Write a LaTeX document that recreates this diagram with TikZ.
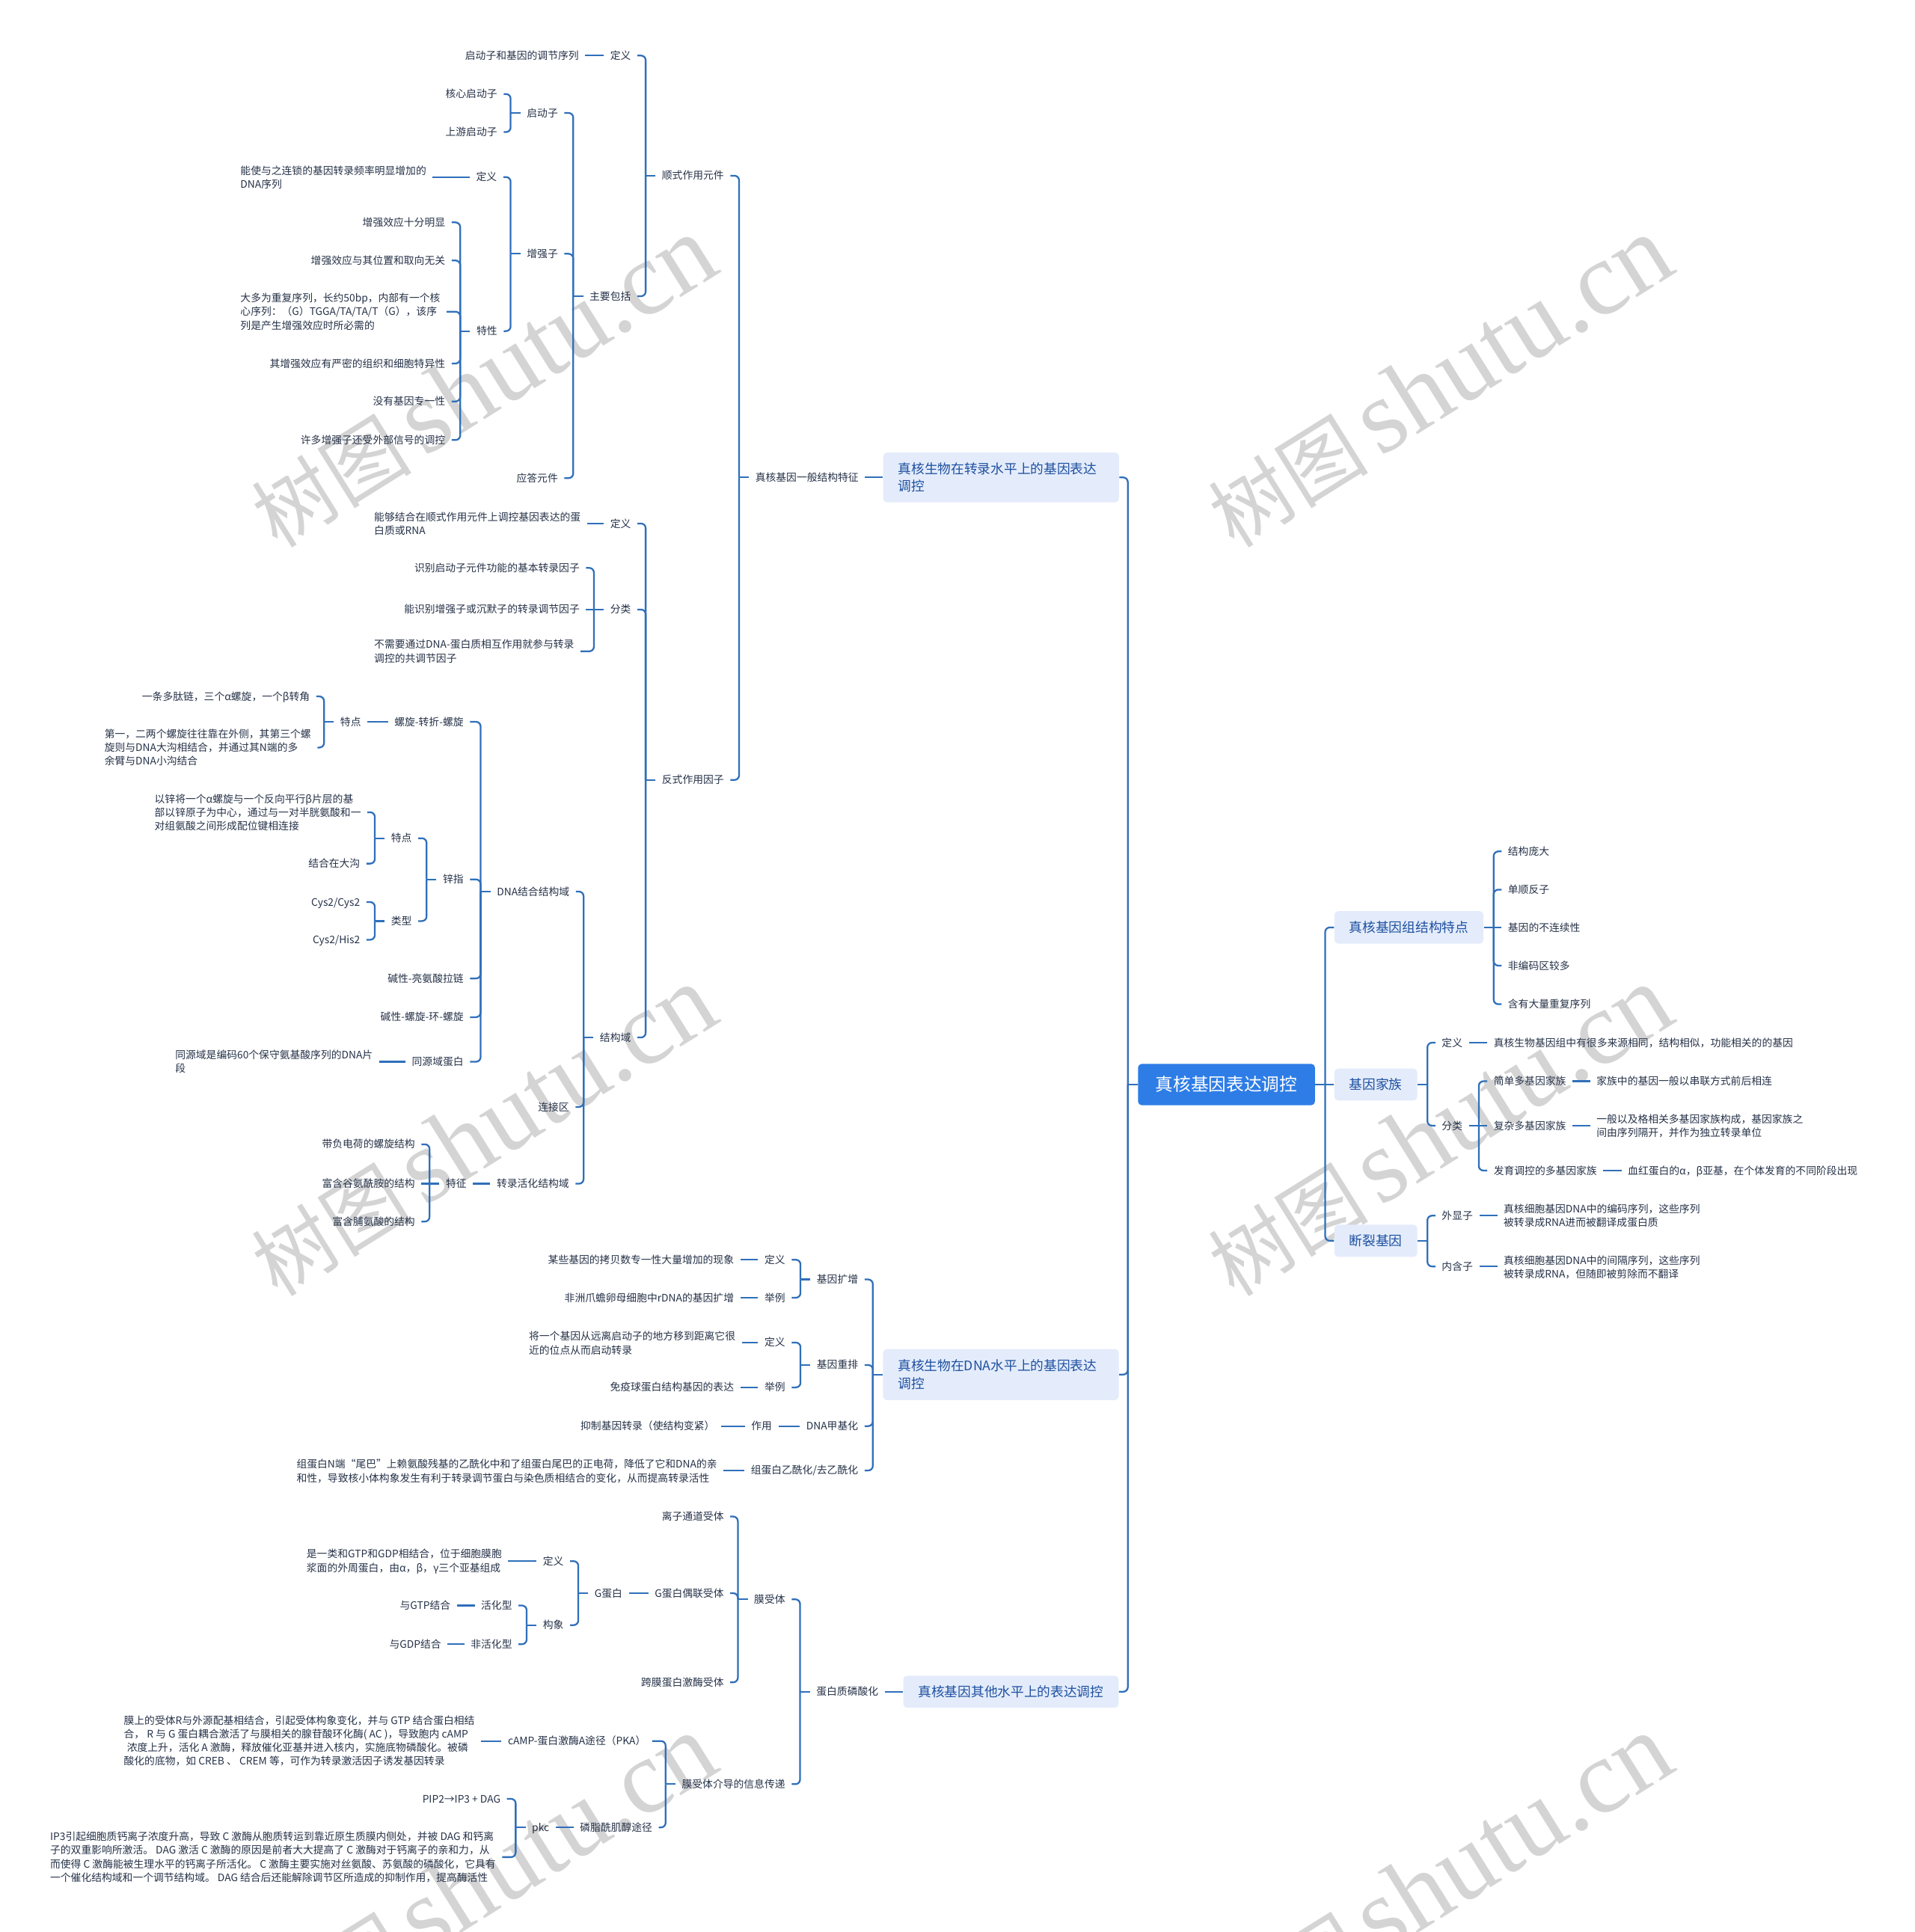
\documentclass[tikz,border=0pt]{standalone}
\usepackage{fontspec}
\setmainfont{Noto Sans CJK SC}
\newfontfamily\wmserif{Liberation Serif}
\usetikzlibrary{calc}
\definecolor{lnc}{RGB}{47,111,186}
\definecolor{txc}{RGB}{38,50,72}
\definecolor{ttc}{RGB}{30,80,160}
\definecolor{boxc}{RGB}{228,236,251}
\definecolor{ctrc}{RGB}{46,125,230}
\definecolor{wmc}{RGB}{212,212,212}
\newcommand\fsm{\fontsize{6.7pt}{8.8pt}\selectfont}
\newcommand\fmd{\fontsize{8.6pt}{11.4pt}\selectfont}
\newcommand\fbg{\fontsize{11.5pt}{14pt}\selectfont}
\newcommand\lbr[2]{\draw[conn] (#1.west) -- ++(-6.4pt,0pt) coordinate (bb);
  \foreach \ch in {#2}{\draw[conn,rounded corners=3pt] (bb) |- (\ch.east);}}
\newcommand\rbr[2]{\draw[conn] (#1.east) -- ++(6.4pt,0pt) coordinate (bb);
  \foreach \ch in {#2}{\draw[conn,rounded corners=3pt] (bb) |- (\ch.west);}}
\newcommand\lnk[2]{\draw[conn] (#1.west) -- (#1.west -| #2.east);}
\newcommand\rlnk[2]{\draw[conn] (#1.east) -- (#1.east -| #2.west);}
\begin{document}
\begin{tikzpicture}[x=0.8pt,y=-0.8pt,
  conn/.style={draw=lnc,line width=1.1pt},
  tn/.style={font=\fsm,text=txc,inner xsep=4pt,inner ysep=1pt},
  L/.style={tn,anchor=east,xshift=4pt,text height=5.7pt,text depth=0.8pt},
  R/.style={tn,anchor=west,xshift=-4pt,text height=5.7pt,text depth=0.8pt},
  ML/.style={tn,anchor=west,xshift=-4pt,align=left},
  bx/.style={fill=boxc,rounded corners=2.5pt,font=\fmd,text=ttc,inner xsep=9.7pt,inner ysep=0pt},
  bxs/.style={bx,text height=7.3pt,text depth=0.9pt},
  wm/.style={rotate=32,text=wmc,inner sep=0pt}]
\fill[white] (0,0) rectangle (1554,1568);
\useasboundingbox (0,0) rectangle (1554,1568);
% watermarks
\foreach \wx in {392,1168}{\foreach \wy in {310,918,1526}{
  \node[wm] at (\wx,\wy) {\fontsize{52pt}{52pt}\selectfont 树图\hspace{8pt}{\wmserif\fontsize{68pt}{68pt}\selectfont shutu.cn}};}}
% ---------- centre and main boxes
\node[fill=ctrc,rounded corners=2.5pt,font=\fbg,text=white,minimum width=114.9pt,minimum height=26.9pt,inner sep=0pt,text height=9.8pt,text depth=1.2pt] (C) at (995.3,880.2) {真核基因表达调控};
\node[bx,text width=133.7pt,align=left,minimum height=32.4pt] (LA) at (812.4,387.5) {真核生物在转录水平上的基因表达\\调控};
\node[bx,text width=133.7pt,align=left,minimum height=33.1pt] (LB) at (812.25,1115.6) {真核生物在DNA水平上的基因表达\\调控};
\node[bxs,anchor=east,minimum height=20.8pt] (LC) at (908,1373) {真核基因其他水平上的表达调控};
\node[bxs,anchor=west,minimum height=21.1pt] (RA) at (1082.6,752.7) {真核基因组结构特点};
\node[bxs,anchor=west,minimum height=20.8pt] (RB) at (1082.6,880.2) {基因家族};
\node[bxs,anchor=west,minimum height=21pt] (RC) at (1082.6,1007) {断裂基因};
% ---------- transcription level
\node[L] (gen) at (697,387.5) {真核基因一般结构特征};
\node[L] (cis) at (587.7,142.6) {顺式作用元件};
\node[L] (tdef) at (512.2,45.1) {定义};
\node[L] (tdefc) at (469.9,45.1) {启动子和基因的调节序列};
\node[L] (main) at (512.2,240.4) {主要包括};
\node[L] (prom) at (453,91.7) {启动子};
\node[L] (core) at (403.7,76.3) {核心启动子};
\node[L] (ups) at (403.7,107.2) {上游启动子};
\node[L] (enh) at (453,206) {增强子};
\node[L] (edef) at (403.5,143.7) {定义};
\node[ML] (edefc) at (194.9,143.75) {能使与之连锁的基因转录频率明显增加的\\DNA序列};
\node[L] (feat) at (403.7,268.7) {特性};
\node[L] (fa) at (361.5,180.5) {增强效应十分明显};
\node[L] (fb) at (361.5,211.4) {增强效应与其位置和取向无关};
\node[ML] (fc) at (194.9,252.95) {大多为重复序列，长约50bp，内部有一个核\\心序列：（G）TGGA/TA/TA/T（G），该序\\列是产生增强效应时所必需的};
\node[L] (fd) at (361.5,295) {其增强效应有严密的组织和细胞特异性};
\node[L] (fe) at (361.5,325.8) {没有基因专一性};
\node[L] (ff) at (361.5,357.1) {许多增强子还受外部信号的调控};
\node[L] (resp) at (453,388) {应答元件};
\node[L] (trans) at (587.7,633) {反式作用因子};
\node[L] (trdef) at (512.2,424.9) {定义};
\node[ML] (trdefc) at (303.4,425) {能够结合在顺式作用元件上调控基因表达的蛋\\白质或RNA};
\node[L] (cls) at (512.2,494.7) {分类};
\node[L] (ca) at (470.6,460.9) {识别启动子元件功能的基本转录因子};
\node[L] (cb) at (470.6,494.7) {能识别增强子或沉默子的转录调节因子};
\node[ML] (cc) at (303.4,528.6) {不需要通过DNA-蛋白质相互作用就参与转录\\调控的共调节因子};
\node[L] (dom) at (512.2,842) {结构域};
\node[L] (dbd) at (462.3,723.6) {DNA结合结构域};
\node[L] (lnkr) at (462,898.4) {连接区};
\node[L] (tad) at (462,960.7) {转录活化结构域};
\node[L] (hth) at (376.4,585.8) {螺旋-转折-螺旋};
\node[L] (hthf) at (293.2,585.8) {特点};
\node[L] (hthfa) at (251.7,565.2) {一条多肽链，三个α螺旋，一个β转角};
\node[ML] (hthfb) at (84.6,606.7) {第一，二两个螺旋往往靠在外侧，其第三个螺\\旋则与DNA大沟相结合，并通过其N端的多\\余臂与DNA小沟结合};
\node[L] (zf) at (376.4,713.7) {锌指};
\node[L] (zff) at (334.4,680.3) {特点};
\node[ML] (zffa) at (125.2,659.2) {以锌将一个α螺旋与一个反向平行β片层的基\\部以锌原子为中心，通过与一对半胱氨酸和一\\对组氨酸之间形成配位键相连接};
\node[L] (zffb) at (292.4,700.9) {结合在大沟};
\node[L] (zft) at (334.4,747.5) {类型};
\node[L] (cysa) at (292.4,732.1) {Cys2/Cys2};
\node[L] (cysb) at (292.4,762.7) {Cys2/His2};
\node[L] (bzip) at (376.4,794.1) {碱性-亮氨酸拉链};
\node[L] (bhlh) at (376.4,825.5) {碱性-螺旋-环-螺旋};
\node[L] (hd) at (376.4,861.7) {同源域蛋白};
\node[ML] (hdc) at (142,861.7) {同源域是编码60个保守氨基酸序列的DNA片\\段};
\node[L] (tadf) at (378.8,960.7) {特征};
\node[L] (tadfa) at (337,928.7) {带负电荷的螺旋结构};
\node[L] (tadfb) at (337,960.7) {富含谷氨酰胺的结构};
\node[L] (tadfc) at (337,991.4) {富含脯氨酸的结构};
% ---------- DNA level
\node[L] (amp) at (696.6,1038.4) {基因扩增};
\node[L] (ampd) at (637.4,1022.4) {定义};
\node[L] (ampdc) at (595.8,1022.4) {某些基因的拷贝数专一性大量增加的现象};
\node[L] (ampe) at (637.4,1053.2) {举例};
\node[L] (ampec) at (595.8,1053.2) {非洲爪蟾卵母细胞中rDNA的基因扩增};
\node[L] (rea) at (696.6,1107.8) {基因重排};
\node[L] (read) at (637.4,1089.6) {定义};
\node[ML] (readc) at (429,1090.1) {将一个基因从远离启动子的地方移到距离它很\\近的位点从而启动转录};
\node[L] (reae) at (637.4,1126) {举例};
\node[L] (reaec) at (595.8,1126) {免疫球蛋白结构基因的表达};
\node[L] (meth) at (696.6,1157.4) {DNA甲基化};
\node[L] (methf) at (626.7,1157.4) {作用};
\node[L] (methc) at (580.3,1157.4) {抑制基因转录（使结构变紧）};
\node[L] (ac) at (696.6,1193.4) {组蛋白乙酰化/去乙酰化};
\node[ML] (acc) at (240.5,1194) {组蛋白N端“尾巴”上赖氨酸残基的乙酰化中和了组蛋白尾巴的正电荷，降低了它和DNA的亲\\和性，导致核小体构象发生有利于转录调节蛋白与染色质相结合的变化，从而提高转录活性};
% ---------- other levels
\node[L] (phos) at (713,1373) {蛋白质磷酸化};
\node[L] (mr) at (637.4,1298) {膜受体};
\node[L] (ion) at (587.6,1230.8) {离子通道受体};
\node[L] (gpcr) at (587.6,1293) {G蛋白偶联受体};
\node[L] (rtk) at (587.6,1365.3) {跨膜蛋白激酶受体};
\node[L] (gp) at (505.3,1293) {G蛋白};
\node[L] (gpd) at (457.6,1267) {定义};
\node[ML] (gpdc) at (248.6,1267.2) {是一类和GTP和GDP相结合，位于细胞膜胞\\浆面的外周蛋白，由α，β，γ三个亚基组成};
\node[L] (conf) at (457.6,1318.9) {构象};
\node[L] (act) at (415.8,1303) {活化型};
\node[L] (inact) at (415.8,1334.4) {非活化型};
\node[L] (gtp) at (365.8,1303) {与GTP结合};
\node[L] (gdp) at (358.2,1334.4) {与GDP结合};
\node[L] (sig) at (637.4,1448) {膜受体介导的信息传递};
\node[L] (camp) at (524.3,1413) {cAMP-蛋白激酶A途径（PKA）};
\node[ML] (campc) at (100.3,1413) {膜上的受体R与外源配基相结合，引起受体构象变化，并与 GTP 结合蛋白相结\\合， R 与 G 蛋白耦合激活了与膜相关的腺苷酸环化酶( AC )，导致胞内 cAMP\\\hspace*{0.3em}浓度上升，活化 A 激酶，释放催化亚基并进入核内，实施底物磷酸化。被磷\\酸化的底物，如 CREB 、 CREM 等，可作为转录激活因子诱发基因转录};
\node[L] (pip) at (529.6,1483.1) {磷脂酰肌醇途径};
\node[L] (pkc) at (445.9,1483.1) {pkc};
\node[L] (pipb) at (406.4,1459.9) {PIP2→IP3 + DAG};
\node[ML] (ipc) at (40.5,1507.2) {IP3引起细胞质钙离子浓度升高，导致 C 激酶从胞质转运到靠近原生质膜内侧处，并被 DAG 和钙离\\子的双重影响所激活。 DAG 激活 C 激酶的原因是前者大大提高了 C 激酶对于钙离子的亲和力，从\\而使得 C 激酶能被生理水平的钙离子所活化。 C 激酶主要实施对丝氨酸、苏氨酸的磷酸化，它具有\\一个催化结构域和一个调节结构域。 DAG 结合后还能解除调节区所造成的抑制作用，提高酶活性};
% ---------- right side
\node[R] (gsa) at (1223.5,691) {结构庞大};
\node[R] (gsb) at (1223.5,722) {单顺反子};
\node[R] (gsc) at (1223.5,752.7) {基因的不连续性};
\node[R] (gsd) at (1223.5,783.7) {非编码区较多};
\node[R] (gse) at (1223.5,815) {含有大量重复序列};
\node[R] (gfd) at (1169.8,846.2) {定义};
\node[R] (gfdc) at (1211.9,846.2) {真核生物基因组中有很多来源相同，结构相似，功能相关的的基因};
\node[R] (gfc) at (1169.8,913.6) {分类};
\node[R] (simp) at (1211.9,877.5) {简单多基因家族};
\node[R] (simpc) at (1295.4,877.5) {家族中的基因一般以串联方式前后相连};
\node[R] (cmpx) at (1211.9,913.6) {复杂多基因家族};
\node[ML] (cmpxc) at (1295.4,913.6) {一般以及格相关多基因家族构成，基因家族之\\间由序列隔开，并作为独立转录单位};
\node[R] (dev) at (1211.9,950) {发育调控的多基因家族};
\node[R] (devc) at (1320.8,950) {血红蛋白的α，β亚基，在个体发育的不同阶段出现};
\node[R] (exon) at (1169.8,986.6) {外显子};
\node[ML] (exonc) at (1220,986.6) {真核细胞基因DNA中的编码序列，这些序列\\被转录成RNA进而被翻译成蛋白质};
\node[R] (intr) at (1169.8,1027.8) {内含子};
\node[ML] (intrc) at (1220,1028.3) {真核细胞基因DNA中的间隔序列，这些序列\\被转录成RNA，但随即被剪除而不翻译};
% ---------- connectors
\lbr{C}{LA,LB,LC}
\rbr{C}{RA,RC}
\rlnk{C}{RB}
\lnk{LA}{gen}
\lbr{gen}{cis,trans}
\lbr{cis}{tdef,main}
\lnk{tdef}{tdefc}
\lbr{main}{prom,enh,resp}
\lbr{prom}{core,ups}
\lbr{enh}{edef,feat}
\lnk{edef}{edefc}
\lbr{feat}{fa,fb,fc,fd,fe,ff}
\lbr{trans}{trdef,cls,dom}
\lnk{trdef}{trdefc}
\lbr{cls}{ca,cc}
\lnk{cls}{cb}
\lbr{dom}{dbd,lnkr,tad}
\lbr{dbd}{hth,zf,bzip,bhlh,hd}
\lnk{hth}{hthf}
\lbr{hthf}{hthfa,hthfb}
\lbr{zf}{zff,zft}
\lbr{zff}{zffa,zffb}
\lbr{zft}{cysa,cysb}
\lnk{hd}{hdc}
\lnk{tad}{tadf}
\lbr{tadf}{tadfa,tadfc}
\lnk{tadf}{tadfb}
\lbr{LB}{amp,rea,meth,ac}
\lbr{amp}{ampd,ampe}
\lnk{ampd}{ampdc}
\lnk{ampe}{ampec}
\lbr{rea}{read,reae}
\lnk{read}{readc}
\lnk{reae}{reaec}
\lnk{meth}{methf}
\lnk{methf}{methc}
\lnk{ac}{acc}
\lnk{LC}{phos}
\lbr{phos}{mr,sig}
\lbr{mr}{ion,gpcr,rtk}
\lnk{gpcr}{gp}
\lbr{gp}{gpd,conf}
\lnk{gpd}{gpdc}
\lbr{conf}{act,inact}
\lnk{act}{gtp}
\lnk{inact}{gdp}
\lbr{sig}{camp,pip}
\lnk{camp}{campc}
\lnk{pip}{pkc}
\lbr{pkc}{pipb,ipc}
\rbr{RA}{gsa,gsb,gsd,gse}
\rlnk{RA}{gsc}
\rbr{RB}{gfd,gfc}
\rlnk{gfd}{gfdc}
\rbr{gfc}{simp,dev}
\rlnk{gfc}{cmpx}
\rlnk{simp}{simpc}
\rlnk{cmpx}{cmpxc}
\rlnk{dev}{devc}
\rbr{RC}{exon,intr}
\rlnk{exon}{exonc}
\rlnk{intr}{intrc}
\end{tikzpicture}
\end{document}
